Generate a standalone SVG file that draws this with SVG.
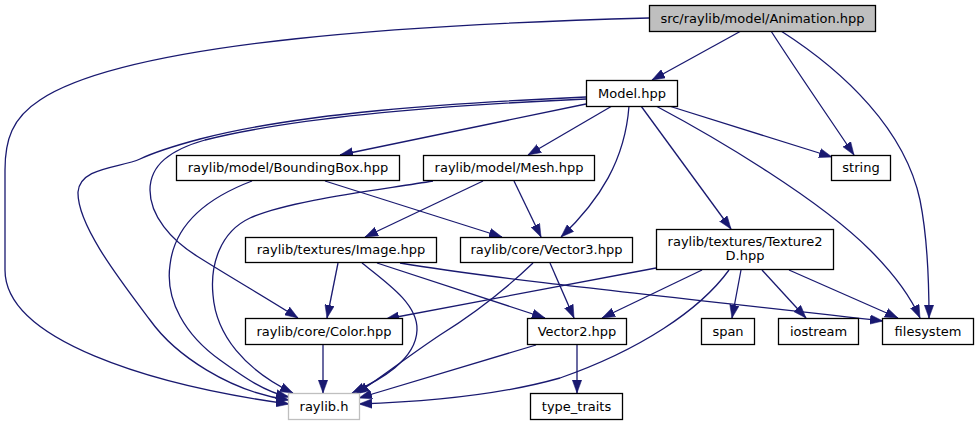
<svg xmlns="http://www.w3.org/2000/svg" width="979" height="425" viewBox="0 0 979 425">
<style>
.node rect{fill:#ffffff;stroke:#000000;stroke-width:1.3}
.node text{font-family:"DejaVu Sans","Liberation Sans",sans-serif;font-size:13px;text-anchor:middle;fill:#000000}
.edge path{fill:none;stroke:#191970;stroke-width:1.3;marker-end:url(#arrow)}
</style>
<defs>
<marker id="arrow" markerUnits="userSpaceOnUse" markerWidth="13" markerHeight="10" refX="12.5" refY="4.5" orient="auto" viewBox="0 0 12.5 9">
<path d="M0,0 L12.5,4.5 L0,9 z" fill="#191970" stroke="#191970" stroke-width="0.5"/>
</marker>
</defs>
<rect width="979" height="425" fill="#ffffff"/>
<g id="edges" class="edge">
<path d="M741,31 L652,80"/>
<path d="M771,31 C796,70 832,122 854,155"/>
<path d="M781,31 C845,72 905,130 920,200 C928,240 929,290 929,318"/>
<path d="M649,18 C430,24 130,40 40,100 C12,118 5,140 5,170 L5,270 C5,340 150,385 289,404"/>
<path d="M586,104 L340,155"/>
<path d="M612,106 L528,155"/>
<path d="M629,106 C625,160 600,200 561,237"/>
<path d="M641,106 L731,229"/>
<path d="M669,106 L832,157"/>
<path d="M656,106 C720,140 820,200 870,250 C895,275 912,300 920,318"/>
<path d="M586,97 C450,103 300,113 200,139 C170,147 155,152 140,159 C120,168 80,167 78,192 C77,225 120,280 150,320 C175,355 230,392 289,400"/>
<path d="M586,99 C450,105 300,116 205,140 C170,150 150,165 150,190 C150,215 170,240 200,258 C235,280 270,300 298,318"/>
<path d="M325,181 L502,237"/>
<path d="M252,181 C215,195 175,220 170,265 C165,300 185,335 220,360 C245,378 265,392 289,397"/>
<path d="M483,181 L365,237"/>
<path d="M514,181 L541,237"/>
<path d="M433,181 C380,190 290,200 250,218 C220,232 210,265 213,295 C216,335 245,370 293,393"/>
<path d="M338,263 L327,318"/>
<path d="M377,263 L545,318"/>
<path d="M400,263 C500,280 700,300 883,321"/>
<path d="M362,263 C390,285 418,305 417,330 C416,360 380,380 352,393"/>
<path d="M550,263 L574,318"/>
<path d="M533,263 C510,285 480,310 440,335 C410,355 380,378 356,394"/>
<path d="M656,268 L386,319"/>
<path d="M702,270 L602,318"/>
<path d="M741,270 L732,318"/>
<path d="M762,270 L806,318"/>
<path d="M789,270 L898,318"/>
<path d="M729,270 C700,310 640,350 560,378 C500,395 420,402 359,404"/>
<path d="M323,345 L323,393"/>
<path d="M536,345 L359,398"/>
<path d="M577,345 L577,393"/>
</g>
<g id="node-animation" class="node"><rect x="649.5" y="5.5" width="226" height="26" style="fill:#bfbfbf"/><text x="762.5" y="23">src/raylib/model/Animation.hpp</text></g>
<g id="node-model" class="node"><rect x="586.5" y="80.5" width="91" height="26"/><text x="632" y="97.5">Model.hpp</text></g>
<g id="node-boundingbox" class="node"><rect x="176.5" y="155.5" width="223" height="25"/><text x="288" y="172">raylib/model/BoundingBox.hpp</text></g>
<g id="node-mesh" class="node"><rect x="423.5" y="155.5" width="171" height="25"/><text x="509" y="172">raylib/model/Mesh.hpp</text></g>
<g id="node-string" class="node"><rect x="831.5" y="155.5" width="59" height="25"/><text x="861" y="172">string</text></g>
<g id="node-image" class="node"><rect x="245.5" y="237.5" width="191" height="25"/><text x="341" y="254">raylib/textures/Image.hpp</text></g>
<g id="node-vector3" class="node"><rect x="460.5" y="237.5" width="172" height="25"/><text x="546.5" y="254">raylib/core/Vector3.hpp</text></g>
<g id="node-texture2d" class="node"><rect x="656.5" y="229.5" width="177" height="40"/><text x="745" y="245.5">raylib/textures/Texture2</text><text x="745" y="260">D.hpp</text></g>
<g id="node-color" class="node"><rect x="245.5" y="318.5" width="157" height="26"/><text x="324" y="335.5">raylib/core/Color.hpp</text></g>
<g id="node-vector2" class="node"><rect x="527.5" y="318.5" width="99" height="26"/><text x="577" y="335.5">Vector2.hpp</text></g>
<g id="node-span" class="node"><rect x="701.5" y="318.5" width="53" height="26"/><text x="728" y="335.5">span</text></g>
<g id="node-iostream" class="node"><rect x="778.5" y="318.5" width="80" height="26"/><text x="818.5" y="335.5">iostream</text></g>
<g id="node-filesystem" class="node"><rect x="882.5" y="318.5" width="91" height="26"/><text x="928" y="335.5">filesystem</text></g>
<g id="node-raylibh" class="node"><rect x="288.5" y="393.5" width="71" height="26" style="stroke:#bfbfbf"/><text x="324" y="410.5">raylib.h</text></g>
<g id="node-typetraits" class="node"><rect x="530.5" y="393.5" width="92" height="26"/><text x="576.5" y="410.5">type_traits</text></g>
</svg>
